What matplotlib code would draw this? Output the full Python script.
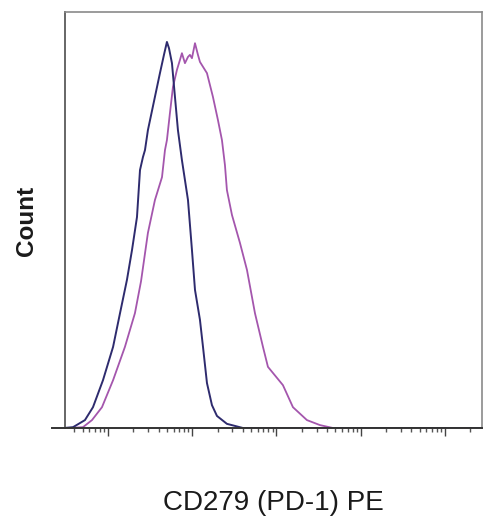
import matplotlib
matplotlib.use("Agg")
import matplotlib.pyplot as plt

plt.rcParams['font.family'] = ['Liberation Sans', 'DejaVu Sans']

# PE fluorescence intensity (log axis) and count (% of axis height)
isotype_x = [3.0, 3.85, 5.33, 6.64, 8.73, 11.5, 13.9, 16.8, 19.3, 22.1, 24.0, 26.0,
             27.5, 29.8, 36.1, 41.4, 46.2, 50.1, 53.0, 57.5, 62.4, 67.7, 75.5, 89.1,
             99.3, 107.9, 123.6, 134.3, 149.7, 171.5, 196.7, 258.2, 400, 1000, 300000]
isotype_y = [0, 0.2, 1.9, 5.0, 11.5, 19.5, 27.6, 35.6, 42.8, 50.7, 62.0, 65.1,
             66.8, 71.6, 79.6, 85.3, 89.7, 92.8, 91.3, 87.7, 79.6, 71.6, 64.4, 54.8,
             42.8, 33.2, 26.0, 19.5, 10.8, 5.5, 2.9, 1.0, 0, 0, 0]

pd1_x = [3.54, 5.05, 6.46, 8.49, 11.5, 15.9, 20.9, 24.7, 29.8, 36.1, 43.8, 47.5,
         50.1, 54.4, 59.1, 65.9, 71.6, 75.5, 82.0, 89.1, 94.0, 99.3, 107.9, 117.0,
         123.6, 149.7, 176.2, 202.2, 225.5, 244.7, 258.2, 296.5, 368.7, 446.7, 555.8,
         691.8, 792.5, 1194, 1570, 2301, 3283, 4688, 300000]
pd1_y = [0, 0.2, 1.9, 5.0, 11.5, 19.5, 27.6, 35.3, 46.9, 54.8, 60.3, 66.8,
         69.2, 75.7, 82.0, 86.1, 88.5, 90.1, 87.7, 89.2, 89.7, 88.9, 92.5, 89.7,
         88.0, 85.3, 79.6, 74.0, 69.2, 63.2, 57.2, 51.2, 44.5, 38.0, 27.6,
         19.5, 14.7, 10.3, 5.0, 1.9, 0.7, 0, 0]

fig = plt.figure(figsize=(4.84, 5.23), dpi=100)
ax = fig.add_axes([65 / 484, 95 / 523, 417 / 484, 416 / 523])

ax.plot(pd1_x, pd1_y, color='#a456ad', linewidth=1.3)
ax.plot(isotype_x, isotype_y, color='#2e2b6e', linewidth=1.4)

ax.set_xscale('log')
ax.set_xlim(10 ** 0.49, 10 ** 5.44)
ax.set_ylim(0, 100)

ax.set_yticks([])
ax.tick_params(axis='x', which='major', direction='out', length=6, width=1,
               color='#444444', labelbottom=False)
ax.tick_params(axis='x', which='minor', direction='out', length=3, width=1,
               color='#555555', labelbottom=False)

for side in ['top', 'right']:
    ax.spines[side].set_color('#8a8a8a')
    ax.spines[side].set_linewidth(1.2)
ax.spines['left'].set_color('#666666')
ax.spines['left'].set_linewidth(1.4)
ax.spines['bottom'].set_color('#333333')
ax.spines['bottom'].set_linewidth(1.4)

# baseline runs a little past the left edge
ax.plot([-0.03, 0], [0, 0], transform=ax.transAxes, color='#333333',
        linewidth=1.4, clip_on=False)

fig.text(27 / 484, 1 - 221 / 523, 'Count', rotation=90, ha='center', va='center',
         fontsize=17.5, fontweight='bold', color='#1a1a1a')
fig.text(273 / 484, 1 - 503 / 523, 'CD279 (PD-1) PE', ha='center', va='center',
         fontsize=20, color='#1a1a1a')

fig.savefig('out.png', dpi=100, facecolor='white')
